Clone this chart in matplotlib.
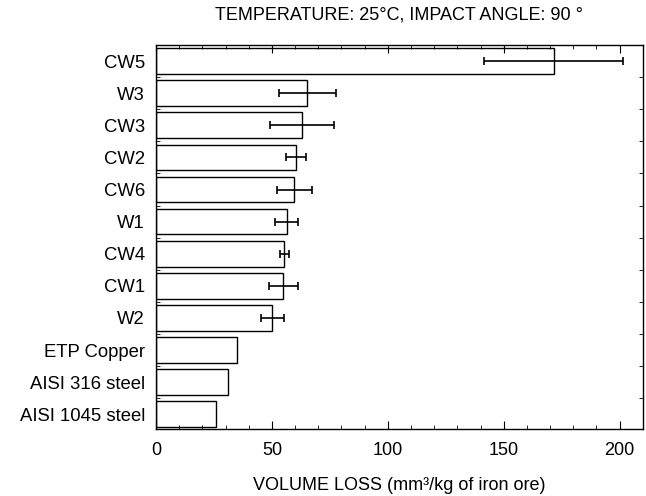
import matplotlib
matplotlib.use("Agg")
import matplotlib.pyplot as plt
import numpy as np
from matplotlib.ticker import MultipleLocator, FixedLocator

plt.rcParams['font.family'] = ['Liberation Sans', 'DejaVu Sans']

categories = ["CW5", "W3", "CW3", "CW2", "CW6", "W1", "CW4", "CW1", "W2",
              "ETP Copper", "AISI 316 steel", "AISI 1045 steel"]
values = [171.5, 65.2, 63.0, 60.4, 59.7, 56.3, 55.4, 55.0, 50.1, 35.1, 31.1, 25.8]
errors = [30.0, 12.3, 14.0, 4.3, 7.4, 5.0, 1.9, 6.4, 5.0, None, None, None]

fig = plt.figure(figsize=(6.46, 4.96), dpi=100)
ax = fig.add_axes([0.2415, 0.135, 0.995 - 0.2415, 0.9099 - 0.135])

n = len(categories)
ypos = np.arange(n)[::-1]
ax.barh(ypos, values, height=0.8, color='white', edgecolor='black', linewidth=1.0)
for y, v, e in zip(ypos, values, errors):
    if e is not None:
        ax.errorbar(v, y, xerr=e, fmt='none', ecolor='black', elinewidth=1.2,
                    capsize=3, capthick=1.2)

ax.set_xlim(0, 210)
ax.set_ylim(-0.46, n - 1 + 0.51)
ax.set_yticks(ypos)
ax.set_yticklabels(categories, fontsize=13.3)
ax.tick_params(axis='y', which='major', length=0, pad=8)
ax.yaxis.set_minor_locator(FixedLocator(np.arange(n) - 0.5))
ax.tick_params(axis='y', which='minor', direction='in', length=3, right=True)
ax.xaxis.set_major_locator(MultipleLocator(50))
ax.xaxis.set_minor_locator(MultipleLocator(10))
ax.tick_params(axis='x', which='major', direction='in', length=6, top=True, labelsize=13, pad=9)
ax.tick_params(axis='x', which='minor', direction='in', length=3, top=True)
for s in ax.spines.values():
    s.set_linewidth(1.0)

ax.set_xlabel("VOLUME LOSS (mm³/kg of iron ore)", fontsize=13, labelpad=13)
ax.set_title("TEMPERATURE: 25°C, IMPACT ANGLE: 90 °", fontsize=13, pad=18)

fig.savefig("out.png", dpi=100)
